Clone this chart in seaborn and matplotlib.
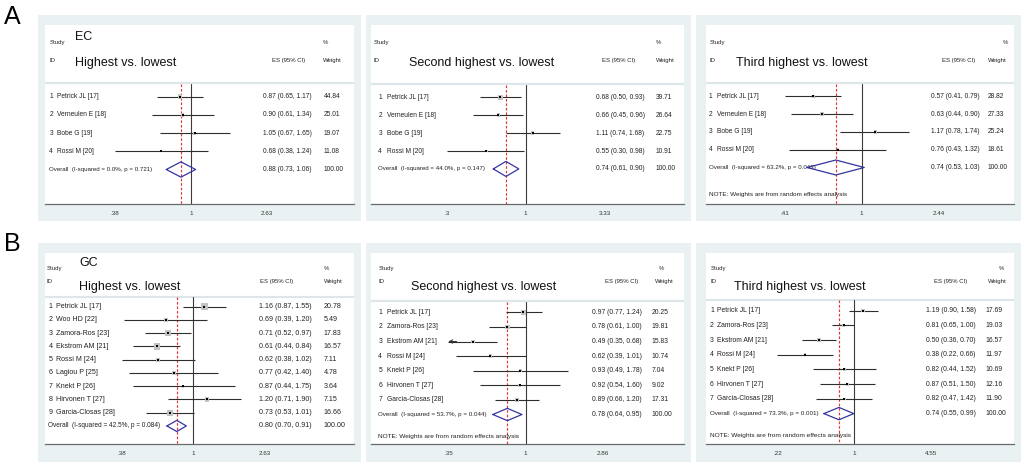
import numpy as np
import pandas as pd
import seaborn as sns
import matplotlib.pyplot as plt
from matplotlib.patches import Rectangle
from matplotlib.ticker import NullLocator
from matplotlib.transforms import blended_transform_factory

# ---- EC (panel A) ----
ec_studies = ["Petrick JL [17]", "Verneulen E [18]", "Bobe G [19]", "Rossi M [20]"]

ec1_es = [0.87, 0.90, 1.05, 0.68]
ec1_lo = [0.65, 0.61, 0.67, 0.38]
ec1_hi = [1.17, 1.34, 1.65, 1.24]
ec1_w = [44.84, 25.01, 19.07, 11.08]
ec1_overall = [0.88, 0.73, 1.06]
ec1_het = ["0.0%", "0.721"]
ec1_ticks = [0.38, 1, 2.63]

ec2_es = [0.68, 0.66, 1.11, 0.55]
ec2_lo = [0.50, 0.45, 0.74, 0.30]
ec2_hi = [0.93, 0.96, 1.68, 0.98]
ec2_w = [39.71, 26.64, 22.75, 10.91]
ec2_overall = [0.74, 0.61, 0.90]
ec2_het = ["44.0%", "0.147"]
ec2_ticks = [0.3, 1, 3.33]

ec3_es = [0.57, 0.63, 1.17, 0.76]
ec3_lo = [0.41, 0.44, 0.78, 0.43]
ec3_hi = [0.79, 0.90, 1.74, 1.32]
ec3_w = [28.82, 27.33, 25.24, 18.61]
ec3_overall = [0.74, 0.53, 1.03]
ec3_het = ["63.2%", "0.043"]
ec3_ticks = [0.41, 1, 2.44]

# ---- GC (panel B) ----
gc1_studies = ["Petrick JL [17]", "Woo HD [22]", "Zamora-Ros [23]", "Ekstrom AM [21]",
               "Rossi M [24]", "Lagiou P [25]", "Knekt P [26]", "Hirvonen T [27]",
               "Garcia-Closas [28]"]
gc1_es = [1.16, 0.69, 0.71, 0.61, 0.62, 0.77, 0.87, 1.20, 0.73]
gc1_lo = [0.87, 0.39, 0.52, 0.44, 0.38, 0.42, 0.44, 0.71, 0.53]
gc1_hi = [1.55, 1.20, 0.97, 0.84, 1.02, 1.40, 1.75, 1.90, 1.01]
gc1_w = [20.78, 5.49, 17.83, 16.57, 7.11, 4.78, 3.64, 7.15, 16.66]
gc1_overall = [0.80, 0.70, 0.91]
gc1_het = ["42.5%", "0.084"]
gc1_ticks = [0.38, 1, 2.63]

gc_studies = ["Petrick JL [17]", "Zamora-Ros [23]", "Ekstrom AM [21]", "Rossi M [24]",
              "Knekt P [26]", "Hirvonen T [27]", "Garcia-Closas [28]"]

gc2_es = [0.97, 0.78, 0.49, 0.62, 0.93, 0.92, 0.89]
gc2_lo = [0.77, 0.61, 0.35, 0.39, 0.49, 0.54, 0.66]
gc2_hi = [1.24, 1.00, 0.68, 1.01, 1.78, 1.60, 1.20]
gc2_w = [20.25, 19.81, 15.83, 10.74, 7.04, 9.02, 17.31]
gc2_overall = [0.78, 0.64, 0.95]
gc2_het = ["53.7%", "0.044"]
gc2_ticks = [0.35, 1, 2.86]
gc2_arrows = [2]  # CI truncated at left edge

gc3_es = [1.19, 0.81, 0.50, 0.38, 0.82, 0.87, 0.82]
gc3_lo = [0.90, 0.65, 0.36, 0.22, 0.44, 0.51, 0.47]
gc3_hi = [1.58, 1.00, 0.70, 0.66, 1.52, 1.50, 1.42]
gc3_w = [17.69, 19.03, 16.57, 11.97, 10.69, 12.16, 11.90]
gc3_overall = [0.74, 0.55, 0.99]
gc3_het = ["73.3%", "0.001"]
gc3_ticks = [0.22, 1, 4.55]

W, H = 1024, 469
BG = "#e9f1f3"
COL_BG = [(38, 361), (366, 691), (696, 1021)]
COL_WHITE = [(45, 354), (371, 684), (706, 1014)]
ROW_BG = [(15, 221), (243, 462)]
ROW_WHITE = [(25, 204), (253, 444)]
# pixel y of header lines per figure row: study, id/ES hdr, big title, group label
HDR_Y = [(42.7, 60.7, 63, 37), (268.5, 281.5, 286.5, 263)]

sns.set_style("white")
plt.rcParams["font.family"] = ["Liberation Sans", "DejaVu Sans"]

fig = plt.figure(figsize=(W / 100, H / 100), dpi=100)


def fig_xy(px, py):
    return px / W, 1 - py / H


def tick_label(t):
    return ("%g" % t).lstrip("0") if t < 1 else "%g" % t


def draw_panel(studies, es, lo, hi, w, overall, ticks, lay, arrows=()):
    col, row = lay["col"], lay["row"]
    bx0, bx1 = COL_BG[col]
    by0, by1 = ROW_BG[row]
    fig.add_artist(Rectangle((bx0 / W, 1 - by1 / H), (bx1 - bx0) / W, (by1 - by0) / H,
                             transform=fig.transFigure, facecolor=BG,
                             edgecolor="none", zorder=-1))
    x0, x1 = COL_WHITE[col]
    y0, y1 = ROW_WHITE[row]
    ax = fig.add_axes([x0 / W, 1 - y1 / H, (x1 - x0) / W, (y1 - y0) / H])
    ax.set_facecolor("white")
    ax.set_xscale("log")

    n = len(studies)
    rows = np.arange(1, n + 1)
    r1, dy = lay["row1"], lay["dy"]
    ytop = 1 + (y0 - r1) / dy
    ybot = 1 + (y1 - r1) / dy

    # separator between header and studies
    ax.axhline(0.25, color="#dfe6e9", lw=1.6, zorder=1)

    # null line and overall line
    ax.plot([1, 1], [0.3, ybot], color="#3a3a3a", lw=0.8, zorder=2)
    ax.plot([overall[0]] * 2, [0.3, ybot], color="#e03535", lw=0.85,
            ls=(0, (2.2, 1.6)), zorder=2)

    # confidence intervals
    ax.hlines(rows, lo, hi, color="#2e2e2e", lw=0.8, zorder=3)
    for i in arrows:
        ax.annotate("", xy=(lo[i], rows[i]), xytext=(lo[i] * 1.12, rows[i]),
                    arrowprops=dict(arrowstyle="->", lw=0.7, color="#2e2e2e",
                                    mutation_scale=6, shrinkA=0, shrinkB=0))

    df = pd.DataFrame({"es": es, "row": rows, "w": w})
    smax = (lay["box"] * 0.72) ** 2
    sns.scatterplot(data=df, x="es", y="row", size="w", sizes=(0, smax),
                    size_norm=(0, max(w)), marker="s", color="#c2c2c2",
                    linewidth=0, legend=False, ax=ax, zorder=4)
    sns.scatterplot(data=df, x="es", y="row", marker="s", s=4, color="black",
                    linewidth=0, legend=False, ax=ax, zorder=5)

    # overall diamond
    ov, ol, oh = overall
    ro = n + 1
    hh = 0.42
    ax.plot([ol, ov, oh, ov, ol], [ro, ro - hh, ro, ro + hh, ro],
            color="#3535a0", lw=0.9, zorder=5)

    # axis setup
    p_lo, p_1 = lay["tick_px"]
    scale = (p_1 - p_lo) / (-np.log(ticks[0]))
    ax.set_xlim(np.exp((x0 - p_1) / scale), np.exp((x1 - p_1) / scale))
    ax.set_ylim(ybot, ytop)
    ax.set_xticks(ticks)
    ax.set_xticklabels([tick_label(t) for t in ticks])
    ax.xaxis.set_minor_locator(NullLocator())
    ax.set_yticks([])
    ax.set_xlabel("")
    ax.set_ylabel("")
    for s in ["top", "left", "right"]:
        ax.spines[s].set_visible(False)
    ax.spines["bottom"].set_color("#6a6a6a")
    ax.spines["bottom"].set_linewidth(0.9)
    ax.tick_params(axis="x", length=2, width=0.6, color="#6a6a6a",
                   labelsize=4.5, pad=3, labelcolor="#333333")
    return ax


def panel_text(ax, studies, es, lo, hi, w, overall, het, title, lay,
               group=None, note=False):
    tr = blended_transform_factory(fig.transFigure, ax.transData)
    n = len(studies)
    fs = lay["fs"]
    tc = "#222222"
    for i in range(n):
        r = i + 1
        ax.text(lay["num_x"] / W, r, str(r), transform=tr, fontsize=fs,
                va="center", color=tc)
        ax.text(lay["name_x"] / W, r, studies[i], transform=tr, fontsize=fs,
                va="center", color=tc)
        ax.text(lay["es_x"] / W, r, "%.2f (%.2f, %.2f)" % (es[i], lo[i], hi[i]),
                transform=tr, fontsize=fs, va="center", color=tc)
        ax.text(lay["w_x"] / W, r, "%.2f" % w[i], transform=tr, fontsize=fs,
                va="center", color=tc)
    ro = n + 1
    ax.text(lay["num_x"] / W, ro,
            "Overall  (I-squared = %s, p = %s)" % (het[0], het[1]),
            transform=tr, fontsize=fs * 0.92, va="center", color=tc)
    ax.text(lay["es_x"] / W, ro, "%.2f (%.2f, %.2f)" % tuple(overall),
            transform=tr, fontsize=fs, va="center", color=tc)
    ax.text(lay["w_x"] / W, ro, "100.00", transform=tr, fontsize=fs,
            va="center", color=tc)
    if note:
        ax.text(lay["num_x"] / W, n + 2.5,
                "NOTE: Weights are from random effects analysis",
                transform=tr, fontsize=fs * 0.95, va="center", color=tc)

    ys, yi, yt, yg = HDR_Y[lay["row"]]
    hfs = 4.3
    fig.text(*fig_xy(lay["study_x"], ys), "Study", fontsize=hfs, va="center", color=tc)
    fig.text(*fig_xy(lay["study_x"], yi), "ID", fontsize=hfs, va="center", color=tc)
    fig.text(*fig_xy(lay["hdr_x"], yi), "ES (95% CI)", fontsize=hfs, va="center", color=tc)
    fig.text(*fig_xy(lay["pct_x"], ys), "%", fontsize=hfs, va="center", color=tc)
    fig.text(*fig_xy(lay["wh_x"], yi), "Weight", fontsize=hfs, va="center", color=tc)
    fig.text(*fig_xy(lay["title_x"], yt), title, fontsize=9, va="center", color="#111111")
    if group:
        fig.text(*fig_xy(lay["title_x"], yg), group, fontsize=9, va="center",
                 color="#111111")


layouts = [
    dict(col=0, row=0, tick_px=(115, 191), row1=96.7, dy=18.2, num_x=49.3, name_x=56.7,
         study_x=49.3, es_x=263.3, w_x=324, hdr_x=271.7, pct_x=322.7, wh_x=323.3,
         title_x=75, fs=4.8, box=4.5),
    dict(col=1, row=0, tick_px=(446.7, 525.7), row1=97.3, dy=17.9, num_x=378.3,
         name_x=386.7, study_x=374, es_x=595.7, w_x=656, hdr_x=601.7, pct_x=656,
         wh_x=656, title_x=409.3, fs=4.8, box=4.5),
    dict(col=2, row=0, tick_px=(785, 861.7), row1=96.3, dy=17.8, num_x=709,
         name_x=716.7, study_x=710, es_x=930.7, w_x=987.7, hdr_x=941.7, pct_x=1003,
         wh_x=987.7, title_x=735.7, fs=4.8, box=3.5),
    dict(col=0, row=1, tick_px=(121.7, 193.3), row1=306.7, dy=13.25, num_x=48.5,
         name_x=56, study_x=46.7, es_x=259.3, w_x=324, hdr_x=260, pct_x=324,
         wh_x=324, title_x=79.3, fs=5.1, box=7),
    dict(col=1, row=1, tick_px=(448.3, 525.7), row1=312.3, dy=14.6, num_x=378.3,
         name_x=386.7, study_x=378.3, es_x=592.3, w_x=651.7, hdr_x=605, pct_x=658.3,
         wh_x=655, title_x=411, fs=4.9, box=4.5),
    dict(col=2, row=1, tick_px=(777.3, 854.3), row1=310.7, dy=14.7, num_x=710,
         name_x=717.3, study_x=710.7, es_x=926, w_x=985, hdr_x=934.3, pct_x=998.3,
         wh_x=987.7, title_x=734, fs=4.9, box=3.5),
]

panels = [
    (ec_studies, ec1_es, ec1_lo, ec1_hi, ec1_w, ec1_overall, ec1_het, ec1_ticks,
     "Highest vs. lowest", "EC", False, ()),
    (ec_studies, ec2_es, ec2_lo, ec2_hi, ec2_w, ec2_overall, ec2_het, ec2_ticks,
     "Second highest vs. lowest", None, False, ()),
    (ec_studies, ec3_es, ec3_lo, ec3_hi, ec3_w, ec3_overall, ec3_het, ec3_ticks,
     "Third highest vs. lowest", None, True, ()),
    (gc1_studies, gc1_es, gc1_lo, gc1_hi, gc1_w, gc1_overall, gc1_het, gc1_ticks,
     "Highest vs. lowest", "GC", False, ()),
    (gc_studies, gc2_es, gc2_lo, gc2_hi, gc2_w, gc2_overall, gc2_het, gc2_ticks,
     "Second highest vs. lowest", None, True, gc2_arrows),
    (gc_studies, gc3_es, gc3_lo, gc3_hi, gc3_w, gc3_overall, gc3_het, gc3_ticks,
     "Third highest vs. lowest", None, True, ()),
]

for (studies, es, lo, hi, w, ov, het, ticks, title, group, note, arrows), lay in zip(panels, layouts):
    ax = draw_panel(studies, es, lo, hi, w, ov, ticks, lay, arrows=arrows)
    panel_text(ax, studies, es, lo, hi, w, ov, het, title, lay, group=group, note=note)

fig.text(*fig_xy(4, 17), "A", fontsize=18, va="center", color="black")
fig.text(*fig_xy(4, 244), "B", fontsize=18, va="center", color="black")

fig.savefig("out.png", dpi=100, facecolor="white")
